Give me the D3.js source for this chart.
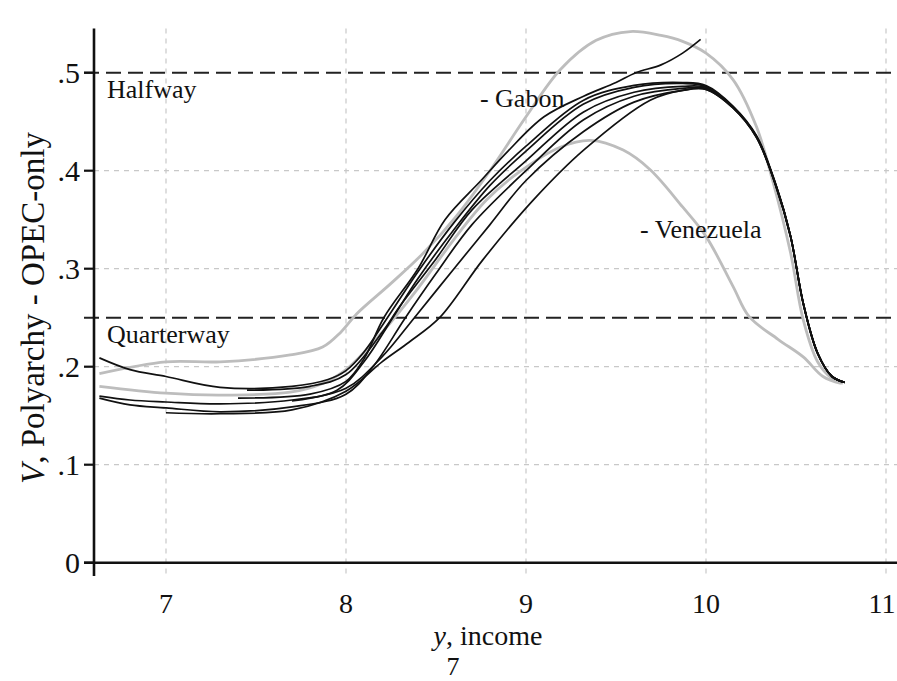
<!DOCTYPE html>
<html><head><meta charset="utf-8">
<script src="https://cdn.jsdelivr.net/npm/d3@7"></script>
<style>html,body{margin:0;padding:0;background:#fff;}</style>
</head><body><svg id="c" width="897" height="681" style="display:block"></svg>
<script>
const xTicks = [7, 8, 9, 10, 11];
const yTicks = [0, 0.1, 0.2, 0.3, 0.4, 0.5];
const yTickLabels = ["0", ".1", ".2", ".3", ".4", ".5"];
const refLines = [{v: 0.5, label: "Halfway"}, {v: 0.25, label: "Quarterway"}];

// gray series
const grayHighX = [6.63, 7.0, 7.3, 7.69, 7.87, 7.97, 8.06, 8.25, 8.43, 8.61, 8.8, 9.0, 9.19, 9.39, 9.58, 9.75, 9.87, 10.0, 10.15, 10.28, 10.37, 10.47, 10.54, 10.62, 10.7, 10.76];
const grayHighY = [0.193, 0.205, 0.205, 0.212, 0.220, 0.235, 0.254, 0.285, 0.316, 0.353, 0.400, 0.455, 0.503, 0.533, 0.542, 0.538, 0.532, 0.520, 0.493, 0.445, 0.390, 0.316, 0.248, 0.205, 0.188, 0.183];
const venezuelaX = [6.63, 7.0, 7.3, 7.69, 7.87, 8.0, 8.2, 8.4, 8.6, 8.78, 8.95, 9.19, 9.36, 9.54, 9.69, 9.87, 10.0, 10.15, 10.24, 10.4, 10.54, 10.65, 10.75];
const venezuelaY = [0.180, 0.173, 0.171, 0.174, 0.183, 0.197, 0.235, 0.280, 0.330, 0.370, 0.397, 0.424, 0.431, 0.421, 0.401, 0.363, 0.333, 0.282, 0.251, 0.228, 0.210, 0.190, 0.183];

// black series
const k1X = [6.63, 6.8, 7.0, 7.3, 7.7, 7.9, 8.0, 8.1, 8.23, 8.4, 8.6, 8.8, 9.0, 9.32, 9.6, 9.87, 10.0, 10.15, 10.28, 10.39, 10.47, 10.54, 10.62, 10.7, 10.77];
const k1Y = [0.209, 0.197, 0.190, 0.179, 0.180, 0.187, 0.196, 0.215, 0.250, 0.297, 0.347, 0.390, 0.425, 0.472, 0.487, 0.490, 0.487, 0.466, 0.436, 0.385, 0.333, 0.265, 0.214, 0.190, 0.184];
const k2X = [6.63, 6.8, 7.0, 7.3, 7.7, 7.95, 8.1, 8.26, 8.4, 8.6, 8.8, 9.0, 9.32, 9.6, 9.87, 10.0, 10.15, 10.28, 10.39, 10.47, 10.54, 10.62, 10.7, 10.77];
const k2Y = [0.170, 0.166, 0.164, 0.162, 0.166, 0.176, 0.205, 0.250, 0.290, 0.340, 0.385, 0.420, 0.468, 0.485, 0.489, 0.486, 0.465, 0.435, 0.384, 0.333, 0.265, 0.214, 0.190, 0.184];
const k3X = [6.63, 6.8, 7.0, 7.3, 7.7, 8.0, 8.15, 8.33, 8.5, 8.7, 9.0, 9.32, 9.6, 9.87, 10.0, 10.15, 10.28, 10.39, 10.47, 10.54, 10.62, 10.7, 10.77];
const k3Y = [0.168, 0.161, 0.158, 0.154, 0.159, 0.172, 0.200, 0.250, 0.295, 0.345, 0.400, 0.452, 0.476, 0.484, 0.484, 0.465, 0.435, 0.384, 0.333, 0.265, 0.214, 0.190, 0.184];
const k4X = [7.0, 7.3, 7.7, 8.0, 8.2, 8.35, 8.52, 8.76, 9.04, 9.32, 9.69, 9.87, 10.0, 10.15, 10.28, 10.39, 10.47, 10.54, 10.62, 10.7, 10.77];
const k4Y = [0.153, 0.152, 0.156, 0.175, 0.205, 0.225, 0.250, 0.309, 0.370, 0.421, 0.472, 0.482, 0.483, 0.464, 0.434, 0.383, 0.332, 0.264, 0.213, 0.190, 0.184];
const k5X = [7.45, 7.8, 8.0, 8.2, 8.3, 8.5, 8.7, 9.0, 9.32, 9.6, 9.87, 10.0, 10.15, 10.28, 10.39, 10.47, 10.54, 10.62, 10.7, 10.77];
const k5Y = [0.176, 0.180, 0.192, 0.235, 0.262, 0.310, 0.360, 0.410, 0.460, 0.480, 0.486, 0.485, 0.465, 0.435, 0.384, 0.333, 0.265, 0.214, 0.190, 0.184];
const k6X = [7.7, 8.0, 8.2, 8.38, 8.6, 8.8, 9.0, 9.32, 9.6, 9.87, 10.0, 10.15, 10.28, 10.39, 10.47, 10.54, 10.62, 10.7, 10.77];
const k6Y = [0.165, 0.178, 0.210, 0.250, 0.300, 0.345, 0.390, 0.440, 0.470, 0.482, 0.483, 0.464, 0.434, 0.384, 0.333, 0.265, 0.214, 0.190, 0.184];
const gabonX = [7.4, 7.8, 8.0, 8.1, 8.21, 8.4, 8.55, 8.75, 8.9, 9.1, 9.32, 9.5, 9.61, 9.75, 9.87, 9.97];
const gabonY = [0.168, 0.172, 0.185, 0.208, 0.250, 0.300, 0.350, 0.390, 0.420, 0.455, 0.476, 0.490, 0.500, 0.508, 0.520, 0.534];

const series = [
  {x: grayHighX, y: grayHighY, gray: true},
  {x: venezuelaX, y: venezuelaY, gray: true},
  {x: k1X, y: k1Y}, {x: k2X, y: k2Y}, {x: k3X, y: k3Y}, {x: k4X, y: k4Y},
  {x: k5X, y: k5Y}, {x: k6X, y: k6Y}, {x: gabonX, y: gabonY}
];
const countryLabels = [{x: 8.744, y: 0.465, text: "- Gabon"}, {x: 9.633, y: 0.331, text: "- Venezuela"}];

const FONT = "'Liberation Serif', 'DejaVu Serif', 'Times New Roman', Times, serif";
const svg = d3.select("#c").attr("font-family", FONT);
const x = d3.scaleLinear().domain([6.6, 11]).range([94, 886]);
const y = d3.scaleLinear().domain([0, 0.5]).range([562.7, 72.7]);
const plotTop = y(0.545), plotBottom = 576, plotRight = 897;

// grid
svg.append("g").selectAll("line").data(xTicks).join("line")
  .attr("x1", d => x(d)).attr("x2", d => x(d)).attr("y1", plotTop).attr("y2", plotBottom)
  .attr("stroke", "#c8c8c8").attr("stroke-width", 1.2).attr("stroke-dasharray", "5,5");
svg.append("g").selectAll("line").data(yTicks.filter(d => d > 0 && d < 0.5)).join("line")
  .attr("x1", 84).attr("x2", plotRight).attr("y1", d => y(d)).attr("y2", d => y(d))
  .attr("stroke", "#c8c8c8").attr("stroke-width", 1.2).attr("stroke-dasharray", "5,5");

// reference lines
svg.append("g").selectAll("line").data(refLines).join("line")
  .attr("x1", 84).attr("x2", plotRight).attr("y1", d => y(d.v)).attr("y2", d => y(d.v))
  .attr("stroke", "#222").attr("stroke-width", 2).attr("stroke-dasharray", "15,7");
svg.append("g").selectAll("text").data(refLines).join("text")
  .attr("x", 107).attr("y", d => y(d.v) + 25).attr("font-size", 26).attr("fill", "#111")
  .text(d => d.label);

// curves
const line = d3.line().curve(d3.curveCatmullRom.alpha(0.5));
svg.append("g").selectAll("path").data(series).join("path")
  .attr("d", s => line(s.x.map((v, i) => [x(v), y(s.y[i])])))
  .attr("fill", "none")
  .attr("stroke", s => s.gray ? "#bdbdbd" : "#111")
  .attr("stroke-width", s => s.gray ? 2.8 : 1.7)
  .attr("stroke-linejoin", "round");

svg.append("g").selectAll("text").data(countryLabels).join("text")
  .attr("x", d => x(d.x)).attr("y", d => y(d.y)).attr("font-size", 26).attr("fill", "#111")
  .text(d => d.text);

// axes
svg.append("line").attr("x1", 84).attr("x2", plotRight).attr("y1", y(0)).attr("y2", y(0))
  .attr("stroke", "#111").attr("stroke-width", 2.6);
svg.append("line").attr("x1", 94).attr("x2", 94).attr("y1", plotTop).attr("y2", plotBottom)
  .attr("stroke", "#111").attr("stroke-width", 2.6);
svg.append("g").selectAll("line").data(yTicks).join("line")
  .attr("x1", 84).attr("x2", 94).attr("y1", d => y(d)).attr("y2", d => y(d))
  .attr("stroke", "#111").attr("stroke-width", 2.2);
svg.append("g").selectAll("text").data(yTicks).join("text")
  .attr("x", 80).attr("y", d => y(d) + 10).attr("text-anchor", "end").attr("font-size", 30).attr("fill", "#111")
  .text((d, i) => yTickLabels[i]);
svg.append("g").selectAll("text").data(xTicks).join("text")
  .attr("x", d => Math.min(x(d), 882)).attr("y", 613).attr("text-anchor", "middle").attr("font-size", 28).attr("fill", "#111")
  .text(d => d);

// axis titles
const xt = svg.append("text").attr("x", 488).attr("y", 645).attr("text-anchor", "middle").attr("font-size", 28).attr("fill", "#111");
xt.append("tspan").attr("font-style", "italic").text("y");
xt.append("tspan").text(", income");
const yt = svg.append("text").attr("transform", "translate(44,308) rotate(-90)").attr("text-anchor", "middle").attr("font-size", 33).attr("fill", "#111");
yt.append("tspan").attr("font-style", "italic").text("V");
yt.append("tspan").text(", Polyarchy - OPEC-only");

svg.append("text").attr("x", 453).attr("y", 675).attr("text-anchor", "middle").attr("font-size", 26).attr("fill", "#111").text("7");
</script></body></html>
